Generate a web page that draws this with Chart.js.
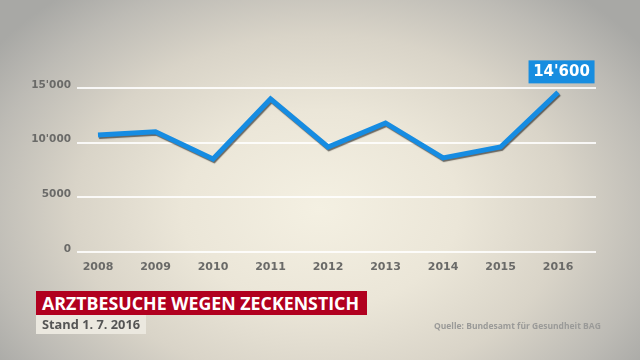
<!DOCTYPE html>
<html>
<head>
<meta charset="utf-8">
<script src="https://cdn.jsdelivr.net/npm/chart.js@4.4.1/dist/chart.umd.min.js"></script>
<style>
  html, body { margin: 0; padding: 0; }
  body {
    width: 640px; height: 360px; overflow: hidden; position: relative;
    background: radial-gradient(ellipse 62% 78% at 50% 58%, #f4f0e2 0%, #ebe6d8 35%, #d9d4c8 62%, #bdbbb5 85%, #a8a8a5 100%);
    font-family: "DejaVu Sans", sans-serif;
  }
  #wrap { position: absolute; left: 0; top: 0; width: 640px; height: 360px; }
  #title {
    position: absolute; left: 36px; top: 291px; width: 331px; height: 24px;
    background: #b1001f; color: #fff; font-family: "Open Sans", sans-serif; font-weight: 700;
    font-size: 17.8px; line-height: 24px; padding-left: 6px; box-sizing: border-box; white-space: nowrap;
  }
  #stand {
    position: absolute; left: 36px; top: 315px; width: 110px; height: 19px;
    background: #ebe8df; color: #555; font-family: "Open Sans", sans-serif; font-weight: 700;
    font-size: 12.8px; line-height: 19px; padding-left: 6px; box-sizing: border-box; white-space: nowrap;
  }
  #source {
    position: absolute; left: 434px; top: 320px; color: #9a9a98; font-family: "Open Sans", sans-serif;
    font-weight: 700; font-size: 8.5px; line-height: 12px; white-space: nowrap;
  }
</style>
</head>
<body>
<div id="wrap"><canvas id="c" width="640" height="360"></canvas></div>
<div id="title">ARZTBESUCHE WEGEN ZECKENSTICH</div>
<div id="stand">Stand 1. 7. 2016</div>
<div id="source">Quelle: Bundesamt für Gesundheit BAG</div>
<script>
const years = [2008, 2009, 2010, 2011, 2012, 2013, 2014, 2015, 2016];
const visits = [10700, 11000, 8500, 14000, 9600, 11800, 8600, 9600, 14600];
const yTicks = [0, 5000, 10000, 15000];
const yTickLabels = ["0", "5000", "10'000", "15'000"];
const highlightLabel = "14'600";

const lineShadow = {
  id: 'lineShadow',
  beforeDatasetDraw(chart) {
    const ctx = chart.ctx;
    ctx.save();
    ctx.shadowColor = 'rgba(0,0,0,0.55)';
    ctx.shadowOffsetX = 1;
    ctx.shadowOffsetY = 1.5;
    ctx.shadowBlur = 1;
  },
  afterDatasetDraw(chart) { chart.ctx.restore(); }
};

const valueBox = {
  id: 'valueBox',
  afterDatasetsDraw(chart) {
    const meta = chart.getDatasetMeta(0);
    const pt = meta.data[meta.data.length - 1];
    const ctx = chart.ctx;
    ctx.save();
    ctx.font = 'bold 15px "DejaVu Sans"';
    const w = 66, h = 23;
    const cx = pt.x + 3.5, bottom = pt.y - 9;
    ctx.fillStyle = '#178de0';
    ctx.fillRect(cx - w / 2, bottom - h, w, h);
    ctx.fillStyle = '#ffffff';
    ctx.textAlign = 'center';
    ctx.textBaseline = 'middle';
    ctx.fillText(highlightLabel, cx, bottom - h / 2 + 0.5);
    ctx.restore();
  }
};

new Chart(document.getElementById('c'), {
  type: 'line',
  data: {
    datasets: [{
      data: years.map((y, i) => ({ x: y, y: visits[i] })),
      borderColor: '#168ce2',
      borderWidth: 5,
      pointRadius: 0,
      tension: 0,
      fill: false,
      clip: false,
      borderJoinStyle: 'miter',
      borderCapStyle: 'butt'
    }]
  },
  options: {
    responsive: false,
    animation: false,
    events: [],
    layout: { padding: { left: 0, right: 44, top: 88, bottom: 0 } },
    plugins: { legend: { display: false }, tooltip: { enabled: false } },
    scales: {
      x: {
        type: 'linear',
        min: 2007.635,
        max: 2016.66,
        afterBuildTicks: s => { s.ticks = years.map(v => ({ value: v })); },
        afterFit: s => { s.height = 108; },
        grid: { display: false },
        border: { display: false },
        ticks: {
          callback: v => String(v),
          font: { family: 'DejaVu Sans', weight: 'bold', size: 11 },
          color: '#6a6a68',
          padding: 1,
          maxRotation: 0,
          autoSkip: false
        }
      },
      y: {
        min: 0,
        max: 15000,
        afterBuildTicks: s => { s.ticks = yTicks.map(v => ({ value: v })); },
        afterFit: s => { s.width = 77; },
        grid: { color: 'rgba(255,255,255,0.85)', lineWidth: 2, drawTicks: false },
        border: { display: false },
        ticks: {
          callback: (v) => yTickLabels[yTicks.indexOf(v)],
          font: { family: 'DejaVu Sans', weight: 'bold', size: 10.5 },
          color: '#6a6a68',
          padding: 6,
          labelOffset: -3
        }
      }
    }
  },
  plugins: [lineShadow, valueBox]
});
</script>
</body>
</html>
